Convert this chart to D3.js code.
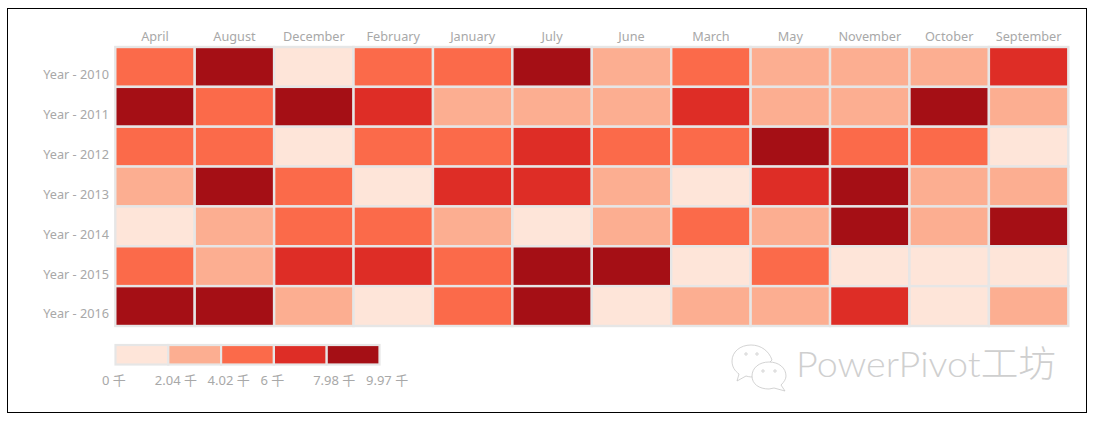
<!DOCTYPE html>
<html>
<head>
<meta charset="utf-8">
<script src="https://cdn.jsdelivr.net/npm/d3@7"></script>
<style>
html, body { margin: 0; padding: 0; background: #fff; }
text { font-family: "Noto Sans", "Noto Sans CJK SC", sans-serif; }
</style>
</head>
<body>
<div id="chart"></div>
<script>
// values in thousands, estimated from the colour band of each cell
var months = ["April","August","December","February","January","July","June","March","May","November","October","September"];
var table = {
	"Year - 2010": [5,9,1,5,5,9,3,5,3,3,3,7],
	"Year - 2011": [9,5,9,7,3,3,3,7,3,3,9,3],
	"Year - 2012": [5,5,1,5,5,7,5,5,9,5,5,1],
	"Year - 2013": [3,9,5,1,7,7,3,1,7,9,3,3],
	"Year - 2014": [1,3,5,5,3,1,3,5,3,9,3,9],
	"Year - 2015": [5,3,7,7,5,9,9,1,5,1,1,1],
	"Year - 2016": [9,9,3,1,5,9,1,3,3,7,1,3]
};
var years = Object.keys(table);
var breaks = [0, 2.04, 4.02, 6, 7.98, 9.97];
var colors = ["#fee5d9","#fcae91","#fb6a4a","#de2d26","#a50f15"];

var w = 1094, h = 423;
var svg = d3.select("#chart").append("svg")
	.attr("width", w)
	.attr("height", h)
	.style("display", "block");

// frame
svg.append("rect")
	.attr("x", 7.5).attr("y", 8.5)
	.attr("width", 1079).attr("height", 404)
	.attr("fill", "#fff")
	.attr("stroke", "#000")
	.attr("stroke-width", 1);

var x = d3.scaleBand().domain(months).range([115.3, 1068.3]);
var y = d3.scaleBand().domain(years).range([47, 326]);
var color = d3.scaleThreshold().domain(breaks.slice(1, 5)).range(colors);

var cells = [];
years.forEach(function(year) {
	table[year].forEach(function(v, i) {
		cells.push({year: year, month: months[i], value: v});
	});
});

svg.append("g").attr("class", "cells")
	.selectAll("rect")
	.data(cells).enter()
	.append("rect")
	.attr("x", function(d) { return x(d.month); })
	.attr("y", function(d) { return y(d.year); })
	.attr("width", x.bandwidth())
	.attr("height", y.bandwidth())
	.attr("fill", function(d) { return color(d.value); })
	.attr("stroke", "#e6e6e6")
	.attr("stroke-width", 2.4);

function styleAxis(g) {
	g.select(".domain").remove();
	g.selectAll("text")
		.attr("fill", "#a8a8a8")
		.style("font-size", "12.7px");
}

svg.append("g")
	.attr("transform", "translate(0,41)")
	.call(d3.axisTop(x).tickSize(0).tickPadding(0))
	.call(styleAxis);

// year labels sit lower than the middle of their row in the original
svg.append("g")
	.attr("transform", "translate(109,8.3)")
	.call(d3.axisLeft(y).tickSize(0).tickPadding(0))
	.call(styleAxis);

// legend
var legendX = d3.scaleBand().domain(d3.range(colors.length)).range([115.5, 379.5]);

svg.append("g").attr("class", "legend")
	.selectAll("rect")
	.data(colors).enter()
	.append("rect")
	.attr("x", function(d, i) { return legendX(i); })
	.attr("y", 345)
	.attr("width", legendX.bandwidth())
	.attr("height", 19.5)
	.attr("fill", function(d) { return d; })
	.attr("stroke", "#e6e6e6")
	.attr("stroke-width", 2.2);

var step = legendX.step();
svg.append("g").attr("class", "legend-labels")
	.selectAll("text")
	.data(breaks).enter()
	.append("text")
	.attr("x", function(d, i) { return 102 + i * step; })
	.attr("y", 385)
	.attr("fill", "#a8a8a8")
	.style("font-size", "13px")
	.text(function(d) { return d + " 千"; });

// watermark
var mark = svg.append("g").attr("class", "watermark")
	.attr("fill", "#fff")
	.attr("stroke", "#c8c8c8")
	.attr("stroke-width", 0.8);
mark.append("path")
	.attr("d", "M751 345 C740 345 732 352 732 361 C732 367 735 371 739 374 L737 381 L746 376 C749 377 752 377 755 377 L772 360 C769 351 761 345 751 345 Z");
mark.append("path")
	.attr("d", "M769 362 C759 362 752 368 752 376 C752 384 759 389 769 389 L774 388 L785 391 L781 385 C784 382 786 379 786 376 C786 368 779 362 769 362 Z");
mark.selectAll("circle")
	.data([[746,354],[757,354],[763,371],[775,371]]).enter()
	.append("circle")
	.attr("cx", function(d) { return d[0]; })
	.attr("cy", function(d) { return d[1]; })
	.attr("r", 1.2)
	.attr("fill", "none");

svg.append("text")
	.attr("x", 796)
	.attr("y", 377)
	.attr("fill", "#cfcfcf")
	.style("font-family", "Lato, 'Noto Sans CJK SC', sans-serif")
	.style("font-weight", 300)
	.style("font-size", "36px")
	.attr("textLength", 260)
	.attr("lengthAdjust", "spacingAndGlyphs")
	.text("PowerPivot工坊");
</script>
</body>
</html>
